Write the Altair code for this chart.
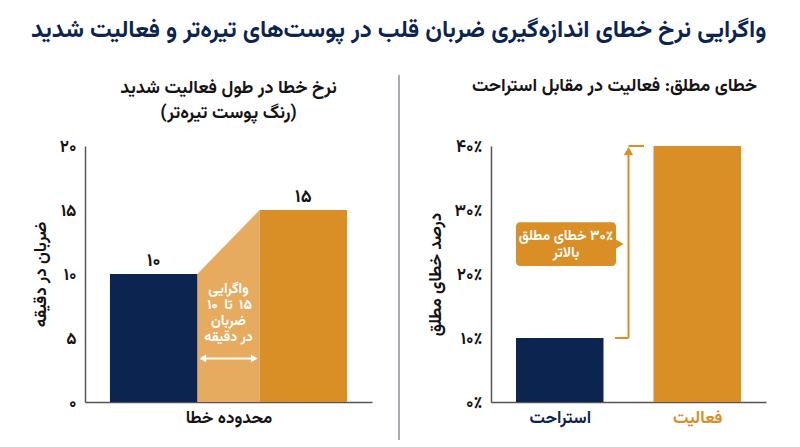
import altair as alt
import pandas as pd

FONT = "Vazirmatn, 'Noto Sans Arabic', 'DejaVu Sans', sans-serif"
NAVY = "#0c2550"
ORANGE = "#d98e26"
LIGHT = "#e6ab5e"
AXIS = "#555555"
TEXT = "#141414"

# ---------------- data ----------------
main_title = "واگرایی نرخ خطای اندازه‌گیری ضربان قلب در پوست‌های تیره‌تر و فعالیت شدید"

left_subtitle = ["نرخ خطا در طول فعالیت شدید", "\u200f(رنگ پوست تیره‌تر)\u200f"]
left_ytitle = "ضربان در دقیقه"
left_xtitle = "محدوده خطا"
left_labels = ["۱۰", "۱۵"]
left_values = [10, 15]
left_ticks = [0, 5, 10, 15, 20]
left_tick_labels = ["۰", "۵", "۱۰", "۱۵", "۲۰"]
left_note = ["واگرایی", None, "ضربان", "در دقیقه"]   # line 2 is built from the parts below
left_note_range = ["۱۰", "تا", "۱۵"]   # second note line, shown left to right
left_arrow_level = 3.4

right_subtitle = "خطای مطلق: فعالیت در مقابل استراحت"
right_ytitle = "درصد خطای مطلق"
right_categories = ["استراحت", "فعالیت"]
right_values = [0.10, 0.40]
right_ticks = [0, 0.1, 0.2, 0.3, 0.4]
right_tick_labels = ["۰٪", "۱۰٪", "۲۰٪", "۳۰٪", "۴۰٪"]
right_note = ["\u200f۳۰٪ خطای مطلق", "بالاتر"]
right_note_range = [0.2125, 0.281]


def tick_expr(ticks, labels):
    parts = [f"abs(datum.value - {t}) < 1e-6 ? '{l}'" for t, l in zip(ticks, labels)]
    return " : ".join(parts) + " : ''"


# ---------------- left panel ----------------
L_STEP, L_BAR, L_START, L_MAX = 6.0, 3.5, 1.0, 11.5
bars_l = pd.DataFrame({
    "x": [L_START + L_STEP * i for i in range(2)],
    "v": left_values,
    "lab": left_labels,
    "c": [NAVY, ORANGE],
})
bars_l["x2"] = bars_l["x"] + L_BAR
bars_l["xc"] = bars_l["x"] + L_BAR / 2
gap_l = pd.DataFrame({"x": [bars_l["x2"][0], bars_l["x"][1]], "v": left_values})
g0, g1 = gap_l["x"][0], gap_l["x"][1]
gmid = (g0 + g1) / 2

xs_l = alt.Scale(domain=[0, L_MAX], nice=False, zero=False)
ys_l = alt.Scale(domain=[0, 20], nice=False)
xax_l = alt.Axis(labels=False, ticks=False, grid=False, domainColor=AXIS, domainWidth=1.5,
                 title=left_xtitle, titleFont=FONT, titleFontSize=17, titleFontWeight="bold",
                 titleColor=TEXT, titlePadding=7)
yax_l = alt.Axis(values=left_ticks, labelExpr=tick_expr(left_ticks, left_tick_labels),
                 ticks=False, grid=False, domainColor=AXIS, domainWidth=1.5,
                 labelFont=FONT, labelFontSize=17, labelFontWeight="bold", labelColor=TEXT,
                 labelPadding=9, title=left_ytitle, titleFont=FONT, titleFontSize=17,
                 titleFontWeight="bold", titleColor=TEXT, titlePadding=10)

X_l = lambda f: alt.X(f, scale=xs_l, axis=xax_l)
Y_l = lambda f: alt.Y(f, scale=ys_l, axis=yax_l)

trap = alt.Chart(gap_l).mark_area(color=LIGHT, opacity=1).encode(
    x=X_l("x:Q"), y=Y_l("v:Q"), y2=alt.datum(0))
bar_l = alt.Chart(bars_l).mark_bar(opacity=1).encode(
    x=X_l("x:Q"), x2="x2:Q", y=Y_l("v:Q"), y2=alt.datum(0),
    color=alt.Color("c:N", scale=None))
lab_l = alt.Chart(bars_l).mark_text(font=FONT, fontSize=18, fontWeight="bold", color=TEXT,
                                    dy=-13, baseline="middle").encode(
    x=X_l("xc:Q"), y=Y_l("v:Q"), text="lab:N")

note_pos = pd.DataFrame({"x": [gmid], "y": [left_values[0]]})
NOTE_STYLE = dict(font=FONT, fontSize=14, fontWeight="bold", color="white", baseline="top")
note_layers = []
for i, line in enumerate(left_note):
    if line is None:
        for part, off in zip(left_note_range, [-16, 0, 17]):
            note_layers.append(alt.Chart(note_pos).mark_text(
                text=part, dy=8 + 16 * i, dx=off, **NOTE_STYLE).encode(
                x=X_l("x:Q"), y=Y_l("y:Q")))
    else:
        note_layers.append(alt.Chart(note_pos).mark_text(
            text=line, dy=8 + 16 * i, **NOTE_STYLE).encode(x=X_l("x:Q"), y=Y_l("y:Q")))

arrow_l = alt.Chart(pd.DataFrame({"x": [g0 + 0.15], "x2": [g1 - 0.15],
                                  "y": [left_arrow_level]})).mark_rule(
    color="white", strokeWidth=2).encode(x=X_l("x:Q"), x2="x2:Q", y=Y_l("y:Q"))
heads_l = alt.Chart(pd.DataFrame({"x": [g0 + 0.22, g1 - 0.22],
                                  "y": [left_arrow_level] * 2,
                                  "s": ["triangle-left", "triangle-right"]})).mark_point(
    filled=True, color="white", opacity=1, size=60).encode(
    x=X_l("x:Q"), y=Y_l("y:Q"), shape=alt.Shape("s:N", scale=None))

left = alt.layer(trap, bar_l, lab_l, *note_layers, arrow_l, heads_l).properties(
    width=287, height=256,
    title=alt.TitleParams(text=left_subtitle, font=FONT, fontSize=18, fontWeight="bold",
                          color=TEXT, anchor="middle", frame="group", lineHeight=25,
                          offset=15))

# ---------------- right panel ----------------
R_STEP, R_BAR, R_START, R_MAX = 2.75, 1.75, 0.5, 5.5
bars_r = pd.DataFrame({
    "x": [R_START + R_STEP * i for i in range(2)],
    "v": right_values,
    "cat": right_categories,
    "c": [NAVY, ORANGE],
})
bars_r["x2"] = bars_r["x"] + R_BAR
bars_r["xc"] = bars_r["x"] + R_BAR / 2
r0, r1 = bars_r["x2"][0], bars_r["x"][1]
rmid = (r0 + r1) / 2
centers = list(bars_r["xc"])

xs_r = alt.Scale(domain=[0, R_MAX], nice=False, zero=False)
ys_r = alt.Scale(domain=[0, 0.4], nice=False)
xlab_expr = " : ".join(
    f"abs(datum.value - {c}) < 1e-6 ? '{n}'" for c, n in zip(centers, right_categories)) + " : ''"
xax_r = alt.Axis(values=centers, labelExpr=xlab_expr, ticks=False, grid=False,
                 domainColor=AXIS, domainWidth=1.5, labelFont=FONT, labelFontSize=17,
                 labelFontWeight="bold", labelPadding=7,
                 labelColor={"condition": {"test": f"datum.value > {rmid}", "value": ORANGE},
                             "value": NAVY},
                 title=None)
yax_r = alt.Axis(values=right_ticks, labelExpr=tick_expr(right_ticks, right_tick_labels),
                 ticks=False, grid=False, domainColor=AXIS, domainWidth=1.5,
                 labelFont=FONT, labelFontSize=17, labelFontWeight="bold", labelColor=TEXT,
                 labelPadding=9, title=right_ytitle, titleFont=FONT, titleFontSize=17,
                 titleFontWeight="bold", titleColor=TEXT, titlePadding=10)
X_r = lambda f: alt.X(f, scale=xs_r, axis=xax_r)
Y_r = lambda f: alt.Y(f, scale=ys_r, axis=yax_r)

bar_r = alt.Chart(bars_r).mark_bar(opacity=1).encode(
    x=X_r("x:Q"), x2="x2:Q", y=Y_r("v:Q"), y2=alt.datum(0),
    color=alt.Color("c:N", scale=None))

lo, hi = right_values
bracket = pd.DataFrame({
    "x": [r0 + 0.23, rmid, rmid],
    "x2": [rmid, rmid, rmid + 0.31],
    "y": [lo, lo, hi],
    "y2": [lo, hi - 0.012, hi],
})
br = alt.Chart(bracket).mark_rule(color=ORANGE, strokeWidth=2).encode(
    x=X_r("x:Q"), x2="x2:Q", y=Y_r("y:Q"), y2="y2:Q")
head_r = alt.Chart(pd.DataFrame({"x": [rmid], "y": [hi - 0.008]})).mark_point(
    shape="triangle-up", filled=True, color=ORANGE, opacity=1, size=90).encode(
    x=X_r("x:Q"), y=Y_r("y:Q"))

box = pd.DataFrame({"x": [R_START], "x2": [r0 + 0.25],
                    "y": [right_note_range[0]], "y2": [right_note_range[1]]})
box_r = alt.Chart(box).mark_rect(color=ORANGE, cornerRadius=4, opacity=1).encode(
    x=X_r("x:Q"), x2="x2:Q", y=Y_r("y:Q"), y2="y2:Q")
ymid = sum(right_note_range) / 2
ptr_r = alt.Chart(pd.DataFrame({"x": [r0 + 0.3], "y": [ymid]})).mark_point(
    shape="triangle-right", filled=True, color=ORANGE, opacity=1, size=140).encode(
    x=X_r("x:Q"), y=Y_r("y:Q"))
note_r = alt.Chart(pd.DataFrame({"x": [(R_START + r0 + 0.25) / 2], "y": [ymid]})).mark_text(
    text=right_note, font=FONT, fontSize=14, fontWeight="bold", color="white",
    baseline="middle", lineHeight=17, dy=-8).encode(x=X_r("x:Q"), y=Y_r("y:Q"))

divider = alt.Chart(pd.DataFrame({"a": [0]})).mark_rule(color="#8a8f99", strokeWidth=1.5).encode(
    x=alt.value(-92), y=alt.value(-71), y2=alt.value(294))

right = alt.layer(bar_r, br, head_r, box_r, ptr_r, note_r, divider).properties(
    width=275, height=256,
    title=alt.TitleParams(text=right_subtitle, font=FONT, fontSize=18, fontWeight="bold",
                          color=TEXT, anchor="middle", frame="group", dx=-14, offset=-21))

chart = alt.hconcat(left, right, spacing=119, bounds="flush").properties(
    title=alt.TitleParams(text=main_title, font=FONT, fontSize=24, fontWeight="bold",
                          color=NAVY, anchor="middle", offset=32),
    padding={"left": 22, "top": 10, "right": 5, "bottom": 5},
    background="white",
).configure_view(stroke=None)

chart.save("out.html", embed_options={"renderer": "svg", "actions": False})
